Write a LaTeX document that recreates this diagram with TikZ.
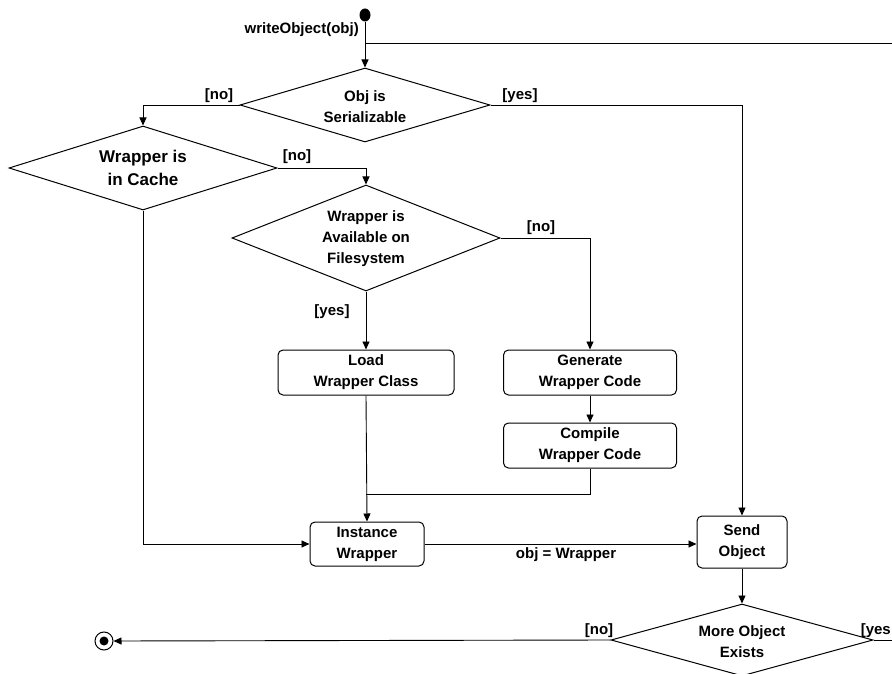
\documentclass[tikz,border=0pt]{standalone}
\usepackage{fontspec}
\setmainfont{Liberation Sans}
\usetikzlibrary{shapes.geometric,arrows.meta}
\tikzset{
  every node/.style={font=\bfseries\fontsize{15}{21}\selectfont},
  dia/.style={diamond,draw,line width=1pt,inner sep=0pt,aspect=1},
  txt/.style={align=center,inner sep=0pt},
  act/.style={draw,line width=1pt,rounded corners=5pt,align=center,inner sep=0pt},
  lbl/.style={inner sep=0pt},
  line/.style={line width=0.9pt},
  arr/.style={line width=0.9pt,-{Triangle[length=8pt,width=7pt]}},
}
\begin{document}
\begin{tikzpicture}[x=1pt,y=-1pt]
\useasboundingbox (0,0) rectangle (892,674);
\clip (0,0) rectangle (892,674);
% start
\node[ellipse,fill,inner sep=0pt,minimum width=11pt,minimum height=13pt] (start) at (365,15) {};
\node[lbl,anchor=east] (wo) at (359,30) {writeObject(obj)};
% decisions
\node[dia,minimum width=250pt,minimum height=74pt] (d1) at (365,105) {};
\node[txt] (d1t) at (365,107) {Obj is\\Serializable};
\node[dia,minimum width=268pt,minimum height=84pt] (cache) at (143,168) {};
\node[txt,font=\bfseries\fontsize{17}{23}\selectfont] (cachet) at (143,168) {Wrapper is\\in Cache};
\node[dia,minimum width=268pt,minimum height=106pt] (avail) at (366,238) {};
\node[txt] (availt) at (366,239) {Wrapper is\\Available on\\Filesystem};
\node[dia,minimum width=262pt,minimum height=72pt] (more) at (742,640) {};
\node[txt] (moret) at (742,642) {More Object\\Exists};
% actions
\node[act,minimum width=176pt,minimum height=45pt] (load) at (366,372.5) {Load\\Wrapper Class};
\node[act,minimum width=173pt,minimum height=45pt] (gen) at (590,372.5) {Generate\\Wrapper Code};
\node[act,minimum width=173pt,minimum height=45pt] (comp) at (590,445.5) {Compile\\Wrapper Code};
\node[act,minimum width=114pt,minimum height=44pt] (inst) at (367,544) {Instance\\Wrapper};
\node[act,minimum width=90pt,minimum height=52pt] (send) at (742,542) {Send\\Object};
% end
\node[circle,draw,line width=1pt,inner sep=0pt,minimum size=18pt] (end) at (104,641) {};
\node[circle,fill,inner sep=0pt,minimum size=9pt] (endin) at (end) {};
% coordinates
\coordinate (j0) at (365,43);
\coordinate (rt) at (900,43);
\coordinate (jn) at (366,494);
\coordinate (mr) at (900,640);
% connectors
\draw[arr] (start) -- (d1.north);
\draw[line] (j0) -- (rt);
\draw[arr] (d1.west) -| (cache.north);
\draw[arr] (d1.east) -| (send.north);
\draw[arr] (cache.east) -| (avail.north);
\draw[arr] (avail.east) -| (gen.north);
\draw[arr] (avail.south) -- (load.north);
\draw[arr] (gen.south) -- (comp.north);
\draw[arr] (load.south) -- (inst.north);
\draw[line] (comp.south) |- (jn);
\draw[arr] (cache.south) |- (inst.west);
\draw[arr] (inst.east) -- (inst.east -| send.west);
\draw[arr] (send.south) -- (more.north);
\draw[arr] (more.west) -- (end.east);
\draw[line] (more.east) -- (mr);
% guard labels
\node[lbl] (l1) at (219,96) {[no]};
\node[lbl] (l2) at (520,96) {[yes]};
\node[lbl] (l3) at (297,157) {[no]};
\node[lbl] (l4) at (541,228) {[no]};
\node[lbl] (l5) at (332,312) {[yes]};
\node[lbl] (l6) at (566,555) {obj = Wrapper};
\node[lbl] (l7) at (599,631) {[no]};
\node[lbl,anchor=east] (l8) at (891,631) {[yes};
\end{tikzpicture}
\end{document}
